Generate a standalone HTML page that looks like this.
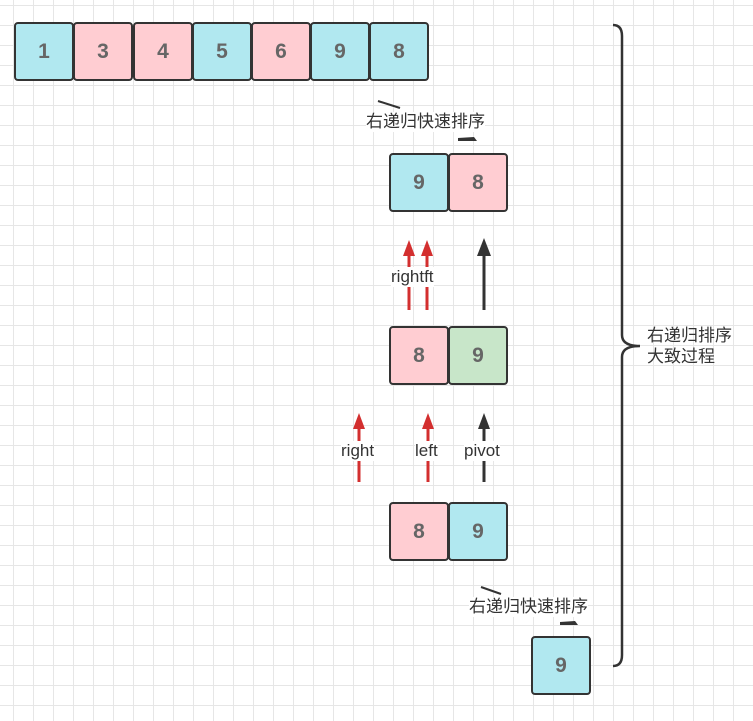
<!DOCTYPE html>
<html><head><meta charset="utf-8"><style>
html,body{margin:0;padding:0;}
body{width:753px;height:721px;position:relative;overflow:hidden;background:#fff;
background-image:linear-gradient(#e6e6e6 1px,transparent 1px),linear-gradient(90deg,#e6e6e6 1px,transparent 1px);
background-size:20px 20px;background-position:0 5px,13px 0;font-family:"Liberation Sans","Noto Sans CJK SC",sans-serif;}
.b{position:absolute;box-sizing:border-box;border:2.5px solid #333;border-radius:4px;width:60px;height:59px;
display:flex;align-items:center;justify-content:center;font-weight:bold;font-size:21px;color:#666;}
.bl{background:#b1e8f0}.pk{background:#ffcdd2}.gr{background:#c8e6c9}
.t{position:absolute;font-size:17px;color:#333;background:#fff;line-height:20px;white-space:nowrap;}
svg{position:absolute;left:0;top:0}
</style></head><body>
<div class="b bl" style="left:14px;top:22px">1</div>
<div class="b pk" style="left:73px;top:22px">3</div>
<div class="b pk" style="left:133px;top:22px">4</div>
<div class="b bl" style="left:192px;top:22px">5</div>
<div class="b pk" style="left:251px;top:22px">6</div>
<div class="b bl" style="left:310px;top:22px">9</div>
<div class="b bl" style="left:369px;top:22px">8</div>

<div class="b bl" style="left:389px;top:153px">9</div>
<div class="b pk" style="left:448px;top:153px">8</div>
<div class="b pk" style="left:389px;top:326px">8</div>
<div class="b gr" style="left:448px;top:326px">9</div>
<div class="b pk" style="left:389px;top:502px">8</div>
<div class="b bl" style="left:448px;top:502px">9</div>
<div class="b bl" style="left:531px;top:636px">9</div>

<svg width="753" height="721">
<g stroke-width="3">
<line x1="409" y1="310" x2="409" y2="252" stroke="#d32f2f"/>
<line x1="427" y1="310" x2="427" y2="252" stroke="#d32f2f"/>
<line x1="484" y1="310" x2="484" y2="252" stroke="#333"/>
<line x1="359" y1="482" x2="359" y2="425" stroke="#d32f2f"/>
<line x1="428" y1="482" x2="428" y2="425" stroke="#d32f2f"/>
<line x1="484" y1="482" x2="484" y2="425" stroke="#333"/>
</g>
<polygon points="403,256 409,240 415,256" fill="#d32f2f"/>
<polygon points="421,256 427,240 433,256" fill="#d32f2f"/>
<polygon points="477,256 484,238 491,256" fill="#333"/>
<polygon points="353,429 359,413 365,429" fill="#d32f2f"/>
<polygon points="422,429 428,413 434,429" fill="#d32f2f"/>
<polygon points="478,429 484,413 490,429" fill="#333"/>
<path d="M613,25 Q622,25 622,36 L622,335 Q622,346 640,346 Q622,346 622,357 L622,655 Q622,666 613,666" fill="none" stroke="#333" stroke-width="2.5"/>
<line x1="378" y1="101" x2="400" y2="108" stroke="#333" stroke-width="2"/>
<path d="M458,138 L474,137 L477,141 L458,141Z" fill="#333"/>
<line x1="481" y1="587" x2="501" y2="594" stroke="#333" stroke-width="2"/>
<path d="M560,622 L575,621 L578,625 L560,625Z" fill="#333"/>
</svg>
<div class="t" style="left:366px;top:112px">右递归快速排序</div>
<div class="t" style="left:391px;top:267px">rightft</div>
<div class="t" style="left:341px;top:441px">right</div>
<div class="t" style="left:415px;top:441px">left</div>
<div class="t" style="left:464px;top:441px">pivot</div>
<div class="t" style="left:469px;top:597px">右递归快速排序</div>
<div class="t" style="left:647px;top:325px;line-height:21px;background:transparent">右递归排序<br>大致过程</div>
</body></html>
